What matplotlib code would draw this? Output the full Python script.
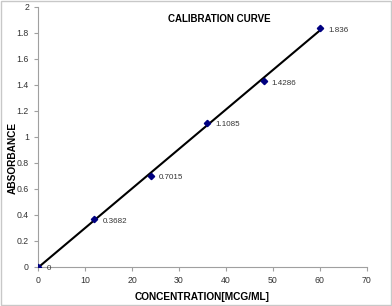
import numpy as np
import matplotlib
matplotlib.use('Agg')
import matplotlib.pyplot as plt
from matplotlib.patches import Rectangle

conc = [0, 12, 24, 36, 48, 60]
absorb = [0, 0.3682, 0.7015, 1.1085, 1.4286, 1.836]
labels = ['0', '0.3682', '0.7015', '1.1085', '1.4286', '1.836']

plt.rcParams.update({'font.family': ['Liberation Sans', 'DejaVu Sans']})
fig = plt.figure(figsize=(3.92, 3.06), dpi=100)
ax = fig.add_axes([0.097, 0.1275, 0.839, 0.85])
fig.patches.append(Rectangle((0.002, 0.002), 0.996, 0.996, transform=fig.transFigure,
                             fill=False, ec='#c8c8c8', lw=1))

# linear trendline
m, b = np.polyfit(conc, absorb, 1)
xs = np.array([conc[0], conc[-1]])
ax.plot(xs, m * xs + b, color='black', lw=1.5, zorder=2)
ax.plot(conc, absorb, linestyle='none', marker='D', ms=3.2, color='#000080', zorder=3)
for x, y, s in zip(conc, absorb, labels):
    ax.annotate(s, (x, y), xytext=(6, -2.5), textcoords='offset points',
                fontsize=5.8, color='#333333')

ax.set_xlim(0, 70); ax.set_ylim(0, 2)
ax.set_xticks(range(0, 71, 10))
ax.set_yticks(np.arange(0, 2.01, 0.2))
ax.set_yticklabels(['0', '0.2', '0.4', '0.6', '0.8', '1', '1.2', '1.4', '1.6', '1.8', '2'])
for s in ['top', 'right']:
    ax.spines[s].set_visible(False)
for s in ['left', 'bottom']:
    ax.spines[s].set_color('#a0a0a0'); ax.spines[s].set_linewidth(0.8)
ax.tick_params(colors='#a0a0a0', labelcolor='#333333', labelsize=6.3, length=3, width=0.8)
ax.text(0.55, 0.955, 'CALIBRATION CURVE', transform=ax.transAxes, ha='center', va='center',
        fontsize=7, fontweight='bold')
ax.set_xlabel('CONCENTRATION[MCG/ML]', fontsize=7.3, fontweight='bold')
ax.set_ylabel('ABSORBANCE', fontsize=7.3, fontweight='bold')
ax.xaxis.set_label_coords(0.5, -0.097)
ax.yaxis.set_label_coords(-0.061, 0.42)
fig.savefig('out.png', dpi=100)
